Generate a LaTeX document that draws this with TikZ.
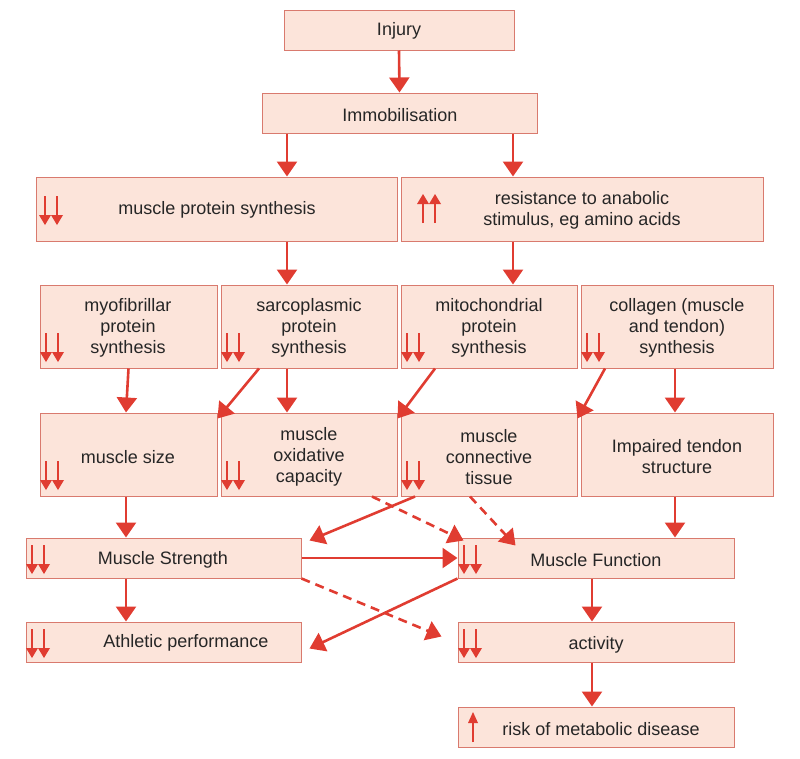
\documentclass[tikz,border=0pt]{standalone}
\usepackage{fontspec}
\setmainfont{Liberation Sans}
\usetikzlibrary{arrows.meta,calc}
\definecolor{fillc}{HTML}{FCE4DA}
\definecolor{edgec}{HTML}{D97A6E}
\definecolor{arr}{HTML}{E03C31}
\tikzset{
  box/.style={draw=edgec,fill=fillc,line width=1pt,inner sep=0pt},
  txt/.style={align=center,font=\fontsize{18}{21}\selectfont,text=black!85},
  conn/.style={draw=arr,line width=2.6pt,-{Triangle[width=20pt,length=15pt]}},
  dconn/.style={conn,dash pattern=on 9pt off 6pt},
  pics/dd/.style={code={
    \foreach \dx in {0,12}{
      \draw[arr,line width=1.4pt] (\dx,0) -- (\dx,19);
      \fill[arr] (\dx-6,19) -- (\dx+6,19) -- (\dx,29) -- cycle;}}},
  pics/uu/.style={code={
    \foreach \dx in {0,12}{
      \draw[arr,line width=1.4pt] (\dx,29) -- (\dx,10);
      \fill[arr] (\dx-6,10) -- (\dx+6,10) -- (\dx,0) -- cycle;}}},
  pics/u/.style={code={
      \draw[arr,line width=1.4pt] (0,30) -- (0,10);
      \fill[arr] (-5,11) -- (5,11) -- (0,0) -- cycle;}},
}
\newcommand\bx[5]{\node[box,minimum width={(#4-#2)*1pt},minimum height={(#5-#3)*1pt}] (#1) at ({(#2+#4)/2},{(#3+#5)/2}) {};}
\begin{document}
\begin{tikzpicture}[x=1pt,y=-1pt]
\useasboundingbox (0,0) rectangle (800,758);
\bx{inj}{284}{10}{514}{50}
\bx{imm}{262}{93}{537}{133}
\bx{mps}{36}{177}{397}{241}
\bx{res}{401}{177}{763}{241}
\bx{myo}{40}{285}{217}{368}
\bx{sar}{221}{285}{397}{368}
\bx{mit}{401}{285}{577}{368}
\bx{col}{581}{285}{773}{368}
\bx{siz}{40}{413}{217}{496}
\bx{oxi}{221}{413}{397}{496}
\bx{con}{401}{413}{577}{496}
\bx{ten}{581}{413}{773}{496}
\bx{str}{26}{538}{301}{578}
\bx{fun}{458}{538}{734}{578}
\bx{ath}{26}{622}{301}{662}
\bx{act}{458}{622}{734}{662}
\bx{ris}{458}{707}{734}{747}

\node[txt] at (399,31) {Injury};
\node[txt] at (400,115) {Immobilisation};
\node[txt] at (217,210) {muscle protein synthesis};
\node[txt] at (582,210) {resistance to anabolic\\stimulus, eg amino acids};
\node[txt] at (128,328) {myofibrillar\\protein\\synthesis};
\node[txt] at (309,328) {sarcoplasmic\\protein\\synthesis};
\node[txt] at (489,328) {mitochondrial\\protein\\synthesis};
\node[txt] at (677,328) {collagen (muscle\\and tendon)\\synthesis};
\node[txt] at (128,457) {muscle size};
\node[txt] at (309,457) {muscle\\oxidative\\capacity};
\node[txt] at (489,457) {muscle\\connective\\tissue};
\node[txt] at (677,457) {Impaired tendon\\structure};
\node[txt] at (163,560) {Muscle Strength};
\node[txt] at (596,560) {Muscle Function};
\node[txt] at (186,643) {Athletic performance};
\node[txt] at (596,645) {activity};
\node[txt] at (601,729) {risk of metabolic disease};

\pic at (45,196) {dd};
\pic at (423,194) {uu};
\foreach \x in {46,227,407,587} \pic at (\x,333) {dd};
\foreach \x in {46,227,407} \pic at (\x,461) {dd};
\pic at (32,545) {dd};
\pic at (464,545) {dd};
\pic at (32,629) {dd};
\pic at (464,629) {dd};
\pic at (473,712) {u};

\draw[conn] (inj.south) -- (imm.north);
\draw[conn] (imm.south -| 287,0) -- (mps.north -| 287,0);
\draw[conn] (imm.south -| 513,0) -- (res.north -| 513,0);
\draw[conn] (mps.south -| 287,0) -- (sar.north -| 287,0);
\draw[conn] (res.south -| 513,0) -- (mit.north -| 513,0);
\draw[conn] (myo.south) -- (siz.north -| 126,0);
\draw[conn] (sar.south -| 287,0) -- (oxi.north -| 287,0);
\draw[conn] (sar.south -| 259,0) -- ([yshift=-6pt]siz.north east);
\draw[conn] (mit.south -| 435,0) -- ([yshift=-6pt]oxi.north east);
\draw[conn] (col.south -| 605,0) -- ([yshift=-6pt]con.north east);
\draw[conn] (col.south -| 675,0) -- (ten.north -| 675,0);
\draw[conn] (siz.south -| 126,0) -- (str.north -| 126,0);
\draw[conn] (con.south -| 415,0) -- ([xshift=8pt,yshift=-3pt]str.north east);
\draw[dconn] (oxi.south -| 372,0) -- ([xshift=6pt,yshift=-3pt]fun.north west);
\draw[dconn] (con.south -| 470,0) -- ([xshift=58pt,yshift=-8pt]fun.north west);
\draw[conn] (ten.south -| 675,0) -- (fun.north -| 675,0);
\draw[conn] (str.east) -- (fun.west);
\draw[conn] (str.south -| 126,0) -- (ath.north -| 126,0);
\draw[dconn] (str.south east) -- ([xshift=-16pt,yshift=-15pt]act.north west);
\draw[conn] (fun.south west) -- ([xshift=8pt,yshift=-27pt]ath.north east);
\draw[conn] (fun.south -| 592,0) -- (act.north -| 592,0);
\draw[conn] (act.south -| 592,0) -- (ris.north -| 592,0);
\end{tikzpicture}
\end{document}
